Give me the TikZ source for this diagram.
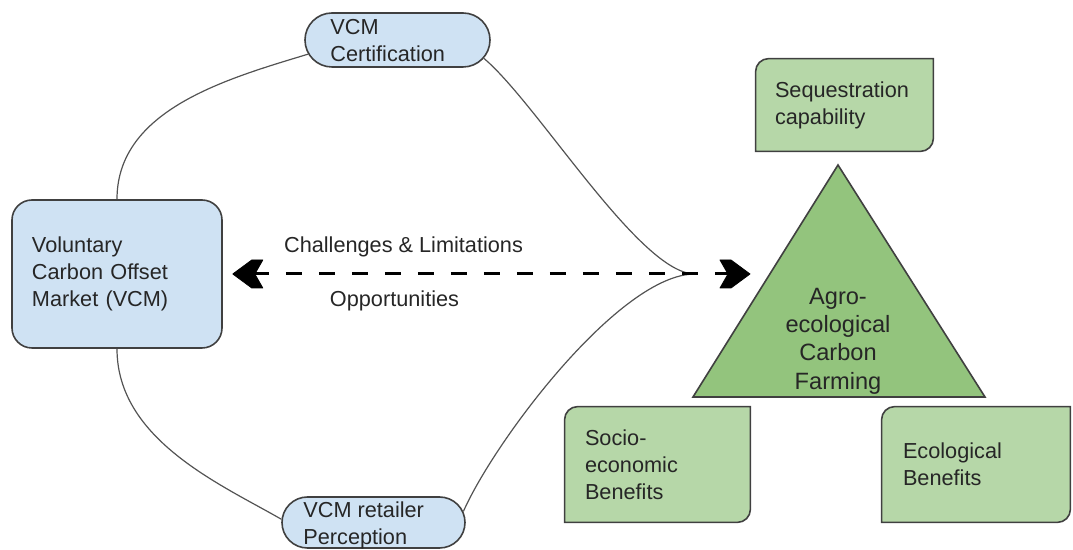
\documentclass[tikz,border=0pt]{standalone}
\usepackage{fontspec}
\setmainfont{Liberation Sans}
\usetikzlibrary{shapes.misc,backgrounds}
\definecolor{bluefill}{HTML}{CFE2F3}
\definecolor{greenbox}{HTML}{B6D7A8}
\definecolor{greentri}{HTML}{93C47D}
\definecolor{edge}{HTML}{404040}
\definecolor{ink}{HTML}{262626}
\begin{document}
\begin{tikzpicture}[x=0.5pt,y=-0.5pt,
  every node/.style={text=ink, font=\fontsize{10.85}{13.4}\selectfont},
  bluebox/.style={draw=edge, line width=0.8pt, fill=bluefill, rounded corners=10pt, inner sep=0pt, align=left},
  stadium/.style={rounded rectangle, draw=edge, line width=0.8pt, fill=bluefill, inner sep=0pt},
  gbox/.style={inner sep=0pt, align=left},
  gframe/.style={draw=edge, line width=0.8pt, fill=greenbox},
  link/.style={draw=edge!90, line width=0.6pt},
  dashline/.style={draw=black, line width=1.5pt, dash pattern=on 8pt off 8.5pt},
  headfill/.style={fill=black, draw=black, line width=0.4pt, line join=round},
  lbl/.style={inner sep=0pt}
]
\useasboundingbox (0,0) rectangle (1073,550);

% coordinates
\coordinate (tipR) at (750,274);
\coordinate (merge) at (695,274);
\coordinate (apex) at (838,165);
\coordinate (bl) at (693,397);
\coordinate (br) at (985,397);

% left blue nodes
\node[bluebox, minimum width=105pt, minimum height=74pt, text width=85pt] (vcm) at (117,274) {Voluntary\\Carbon Offset\\Market (VCM)};
\coordinate (tipL) at ([xshift=5pt]vcm.east);
\node[stadium, minimum width=92.5pt, minimum height=27pt] (cert) at (397.5,40) {};
\node[lbl, anchor=west, align=left] (certtxt) at (330,40.5) {VCM\\Certification};
\node[stadium, minimum width=91.5pt, minimum height=25.5pt] (retail) at (373.5,522.5) {};
\node[lbl, anchor=west, align=left] (retailtxt) at (303,525) {VCM retailer\\Perception};

% triangle
\filldraw[draw=edge, line width=0.8pt, fill=greentri] (apex) -- (br) -- (bl) -- cycle;
\node[font=\fontsize{11.8}{14.2}\selectfont, align=center, inner sep=0pt] (farm) at (838,341) {Agro-\\ecological\\Carbon\\Farming};

% green boxes
\node[gbox, minimum width=88.5pt, minimum height=46pt, text width=69.5pt] (seq) at (844.5,105) {Sequestration\\capability};
\node[gbox, minimum width=92.5pt, minimum height=57.5pt, text width=72.5pt] (socio) at (657.5,464.5) {Socio-\\economic\\Benefits};
\node[gbox, minimum width=94pt, minimum height=57.5pt, text width=73pt] (eco) at (976,464.5) {Ecological\\Benefits};
\begin{scope}[on background layer]
\foreach \b in {seq,socio,eco}{
  \filldraw[gframe] ([xshift=6.5pt]\b.north west) -- (\b.north east) -- ([yshift=6.5pt]\b.south east)
    arc[start angle=0,end angle=-90,radius=6.5pt] -- (\b.south west) -- ([yshift=-6.5pt]\b.north west)
    arc[start angle=180,end angle=90,radius=6.5pt] -- cycle;
}
\end{scope}

% curves
\draw[link] (vcm.north) .. controls (117,110) and (226,79) .. (cert.189);
\draw[link] (cert.-12) .. controls (538,104) and (640,274) .. (merge);
\draw[link] (retail.7) .. controls (495,440) and (620,274) .. (merge);
\draw[link] (vcm.south) .. controls (117,440) and (222,485) .. (retail.178);

% dashed double arrow with chevron heads
\draw[dashline] ([xshift=10pt]tipL) -- ([xshift=-10pt]tipR);
\filldraw[headfill] (tipL) -- ++(19,-14) -- ++(11,0) -- ++(-8,14) -- ++(8,14) -- ++(-11,0) -- cycle;
\filldraw[headfill] (tipR) -- ++(-19,-14) -- ++(-11,0) -- ++(8,14) -- ++(-8,14) -- ++(11,0) -- cycle;

\node[lbl] (chal) at (403.5,247) {Challenges \& Limitations};
\node[lbl] (opp) at (394.5,301) {Opportunities};
\end{tikzpicture}
\end{document}
